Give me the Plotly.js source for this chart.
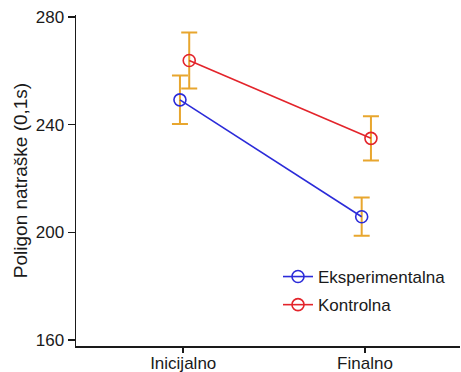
<!DOCTYPE html>
<html>
<head>
<meta charset="utf-8">
<script src="https://cdn.plot.ly/plotly-3.0.1.min.js"></script>
<style>html,body{margin:0;padding:0;background:#fff;}#chart{width:461px;height:372px;}</style>
</head>
<body>
<div id="chart"></div>
<script>
const categories = ["Inicijalno", "Finalno"];
const seriesNames = ["Eksperimentalna", "Kontrolna"];
const eksperimentalnaMean = [249.2, 205.8];
const eksperimentalnaErr = [9.0, 7.1];
const kontrolnaMean = [263.8, 234.9];
const kontrolnaErr = [10.4, 8.2];
const yTicks = [160, 200, 240, 280];
const yTitle = "Poligon natraške (0,1s)";

const font = "Liberation Sans, Arial, sans-serif";
const errColor = "#E8A62E";
const baseX = categories.map((c, i) => i);

function trace(name, means, errs, color, offset, group) {
  return {
    type: "scatter",
    mode: "lines+markers",
    name: name,
    legendgroup: group,
    x: baseX.map(v => v + offset),
    y: means,
    line: {color: color, width: 1.6},
    marker: {symbol: "circle-open", size: 12, color: color, line: {width: 1.6, color: color}},
    error_y: {type: "data", array: errs, visible: true, color: errColor, thickness: 2, width: 8}
  };
}

const data = [
  trace(seriesNames[0], eksperimentalnaMean, eksperimentalnaErr, "#2B2BD9", -0.018, "a"),
  trace(seriesNames[1], kontrolnaMean, kontrolnaErr, "#E3242B", 0.033, "b")
];

const layout = {
  width: 461, height: 372,
  margin: {l: 76, r: 1, t: 15, b: 26},
  paper_bgcolor: "#fff", plot_bgcolor: "#fff",
  font: {family: font, size: 17, color: "#1a1a1a"},
  showlegend: true,
  legend: {
    x: (278 - 76) / 384, y: (372 - 26 - 259) / 331, xanchor: "left", yanchor: "top",
    bgcolor: "rgba(0,0,0,0)", font: {family: font, size: 17, color: "#1a1a1a"},
    traceorder: "grouped", tracegroupgap: 3
  },
  xaxis: {
    range: [-0.59, 1.523],
    tickvals: baseX, ticktext: categories,
    showline: true, linecolor: "#1a1a1a", linewidth: 1.5,
    ticks: "outside", ticklen: 5, tickcolor: "#1a1a1a", tickwidth: 1.5,
    ticklabelstandoff: -4,
    showgrid: false, zeroline: false,
    tickfont: {family: font, size: 17, color: "#1a1a1a"}
  },
  yaxis: {
    range: [157.8, 280.7],
    tickvals: yTicks,
    showline: true, linecolor: "#1a1a1a", linewidth: 1.5,
    ticks: "outside", ticklen: 7, tickcolor: "#1a1a1a", tickwidth: 1.5,
    showgrid: false, zeroline: false,
    tickfont: {family: font, size: 17, color: "#1a1a1a"},
    title: {text: "\u00a0\u00a0\u00a0\u00a0\u00a0" + yTitle, font: {family: font, size: 19, color: "#1a1a1a"}, standoff: 3}
  }
};

Plotly.newPlot("chart", data, layout, {displayModeBar: false, staticPlot: true});
</script>
</body>
</html>
